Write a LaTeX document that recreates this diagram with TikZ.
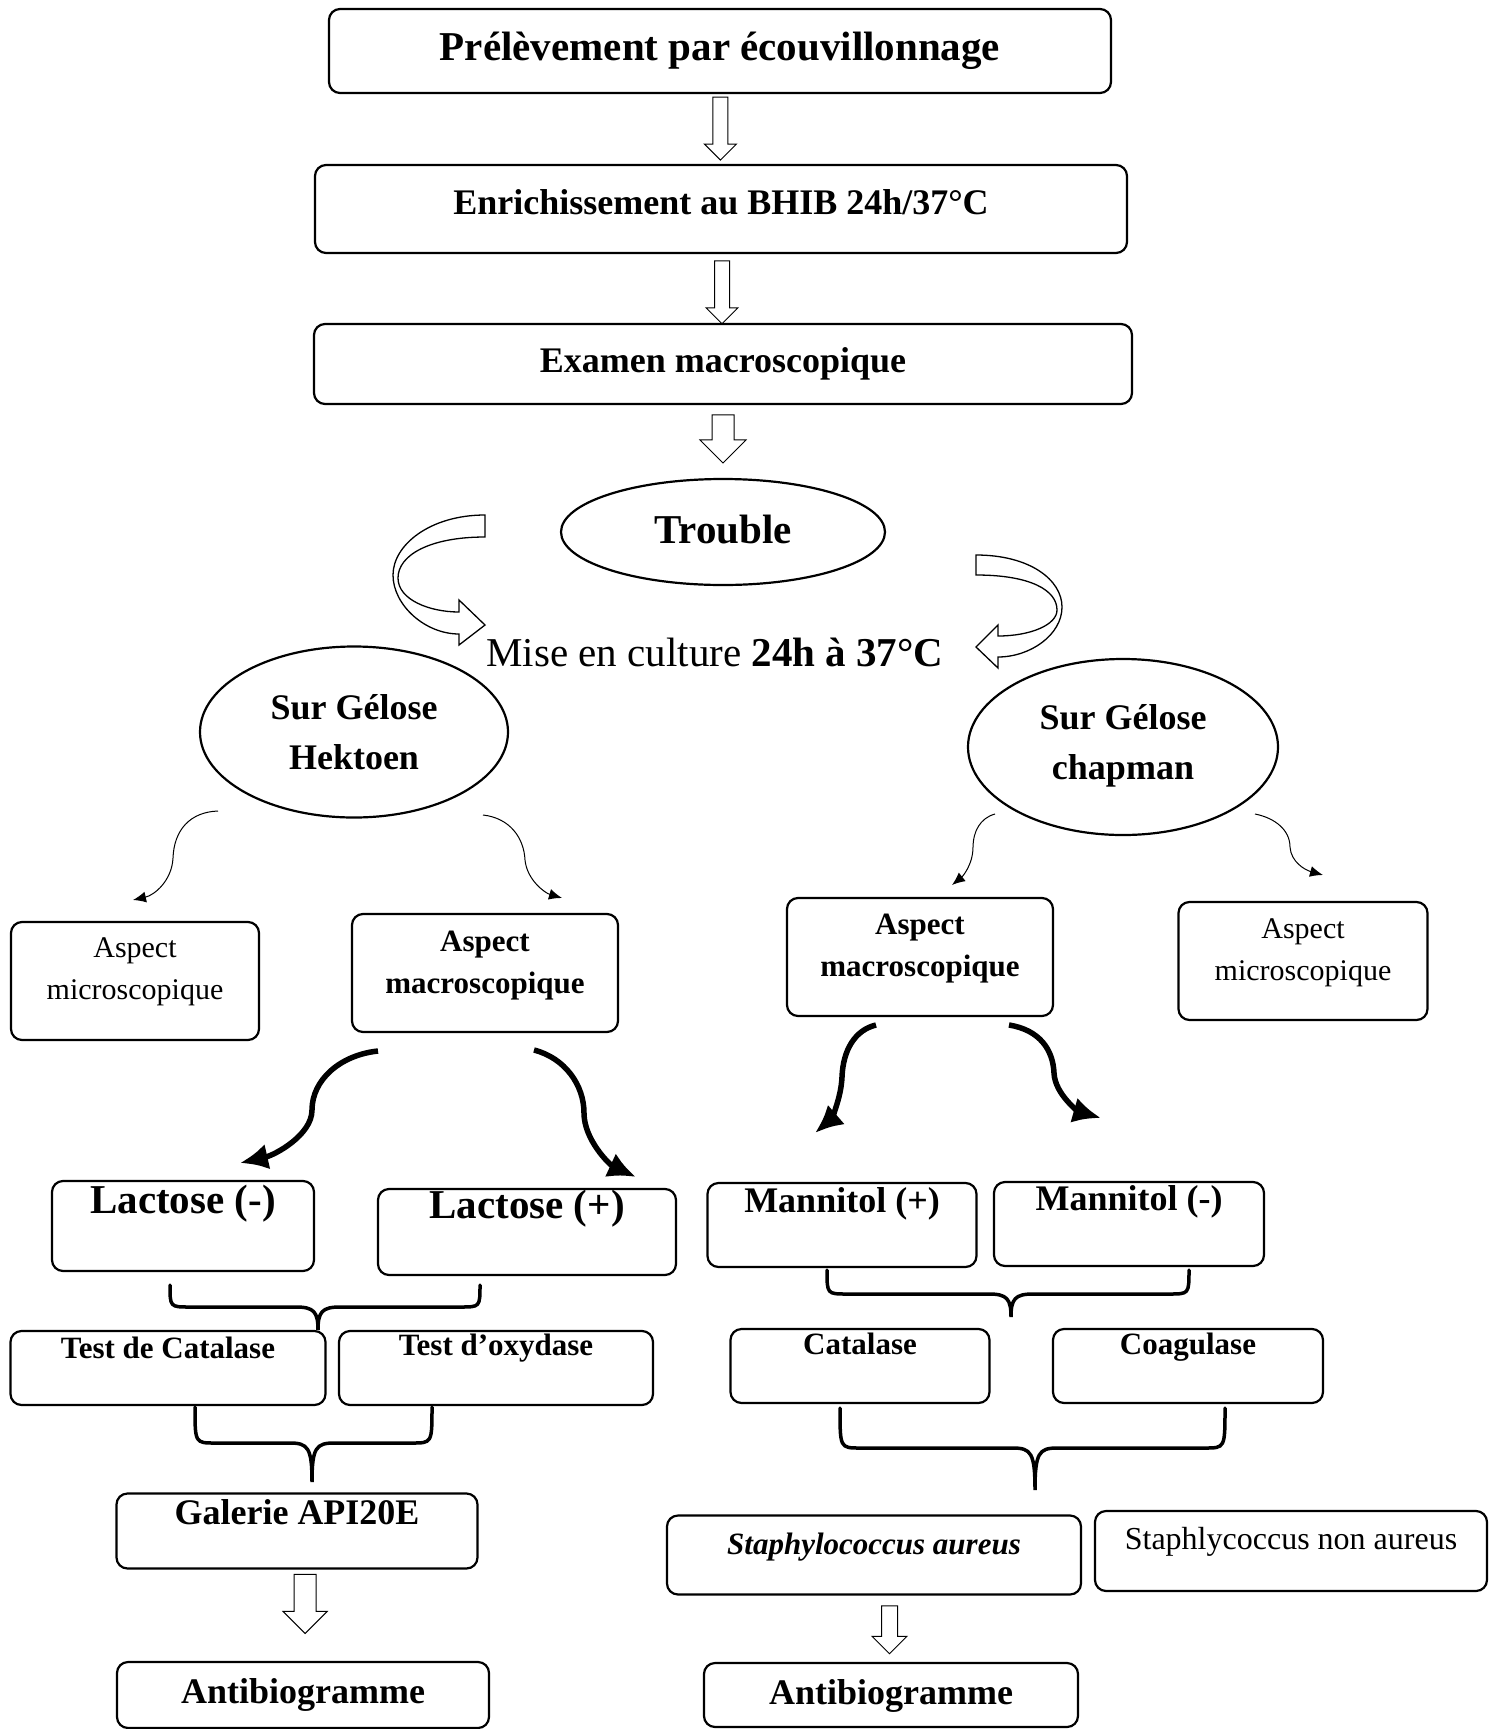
\documentclass[tikz,border=0pt]{standalone}
\usepackage{fontspec}
\setmainfont{Liberation Serif}
\usetikzlibrary{arrows.meta,shapes.geometric,shapes.arrows,calc}
\tikzset{
  box/.style={draw,line width=2.2pt,rounded corners=11pt,inner sep=0pt},
  oval/.style={draw,ellipse,line width=2.2pt,inner sep=0pt},
  tbig/.style={font=\fontsize{41}{50}\selectfont\bfseries},
  tmid/.style={font=\fontsize{36}{50}\selectfont\bfseries,align=center},
  tsmall/.style={font=\fontsize{31}{42}\selectfont\bfseries,align=center},
  treg/.style={font=\fontsize{30}{42}\selectfont,align=center},
  hollow/.style 2 args={draw,single arrow,line width=1pt,rotate=-90,inner sep=#1,single arrow head extend=#2},
  ribbon/.style={draw,line width=1.3pt},
  thinarr/.style={line width=1pt,-{Latex[length=13pt,width=11pt]}},
  thickarr/.style={line width=5.5pt,-{Latex[length=28pt,width=26pt]}},
  curly/.style={line width=3.5pt,line cap=round}
}
\begin{document}
\begin{tikzpicture}[x=1pt,y=-1pt]
\useasboundingbox (0,0) rectangle (1490,1729);
% main column
\node[box,minimum width=782,minimum height=84,label={[tbig]center:Prélèvement par écouvillonnage}] (pre) at (720,51) {};
\node[box,minimum width=812,minimum height=88,label={[tmid,yshift=7]center:Enrichissement au BHIB 24h/37°C}] (enr) at (721,209) {};
\node[box,minimum width=818,minimum height=80,label={[tmid]center:Examen macroscopique}] (exa) at (723,364) {};
\node[oval,minimum width=324,minimum height=106,label={[tbig,yshift=2]center:Trouble}] (tro) at (723,532) {};
\node[font=\fontsize{41}{50}\selectfont] (mise) at (715,652) {Mise en culture \textbf{24h à 37°C}};
\node[hollow={7pt}{8.5pt},minimum height=63] (a1) at ($(pre.south)!.44!(enr.north)$) {};
\node[hollow={7pt}{8.5pt},minimum height=63] (a2) at ($(enr.south)!.5!(exa.north)$) {};
\node[hollow={10.5pt}{12pt},minimum height=48] (a3) at ($(exa.south)!.39!(tro.north)$) {};
% curved ribbons
\draw[ribbon] (485,515) .. controls (430,515) and (393,545) .. (393,575) .. controls (393,605) and (425,634) .. (459,634)
  -- (459,645) -- (485,625) -- (459,600) -- (459,612) .. controls (430,612) and (398,600) .. (398,578)
  .. controls (398,555) and (430,537) .. (485,537) -- cycle;
\draw[ribbon] (976,555) .. controls (1030,555) and (1062,580) .. (1062,607) .. controls (1062,635) and (1030,657) .. (998,657)
  -- (998,668) -- (976,647) -- (998,625) -- (998,636) .. controls (1030,636) and (1057,625) .. (1057,610)
  .. controls (1057,590) and (1030,575) .. (976,575) -- cycle;
% Hektoen
\node[oval,minimum width=308,minimum height=171,label={[tmid]center:Sur Gélose\\Hektoen}] (hek) at (354,732) {};
\node[box,minimum width=248,minimum height=118,label={[treg,yshift=9]center:Aspect\\microscopique}] (mic1) at (135,981) {};
\node[box,minimum width=266,minimum height=118,label={[tsmall,yshift=7]center:Aspect\\macroscopique}] (mac1) at (485,973) {};
\node[box,minimum width=262,minimum height=90,label={[tbig,yshift=22]center:Lactose (-)}] (lacm) at (183,1226) {};
\node[box,minimum width=298,minimum height=86,label={[tbig,yshift=23]center:Lactose (+)}] (lacp) at (527,1232) {};
\node[box,minimum width=315,minimum height=74,label={[tsmall,yshift=20]center:Test de Catalase}] (cat1) at (168,1368) {};
\node[box,minimum width=314,minimum height=74,label={[tsmall,yshift=20]center:Test d’oxydase}] (oxy) at (496,1368) {};
\node[box,minimum width=361,minimum height=75,label={[tmid,yshift=19]center:Galerie API20E}] (api) at (297,1531) {};
\node[box,minimum width=372,minimum height=66,label={[tmid,yshift=0]center:Antibiogramme}] (atb1) at (303,1695) {};
\node[hollow={10.5pt}{11pt},minimum height=59] (a4) at ($(api.south)!.36!(atb1.north)+(6,-4)$) {};
% chapman
\node[oval,minimum width=310,minimum height=176,label={[tmid,yshift=1.5]center:Sur Gélose\\chapman}] (cha) at (1123,747) {};
\node[box,minimum width=266,minimum height=118,label={[tsmall,yshift=8]center:Aspect\\macroscopique}] (mac2) at (920,957) {};
\node[box,minimum width=249,minimum height=118,label={[treg,yshift=8]center:Aspect\\microscopique}] (mic2) at (1303,961) {};
\node[box,minimum width=269,minimum height=84,label={[tmid,yshift=21]center:Mannitol (+)}] (manp) at (842,1225) {};
\node[box,minimum width=270,minimum height=84,label={[tmid,yshift=22]center:Mannitol (-)}] (manm) at (1129,1224) {};
\node[box,minimum width=259,minimum height=74,label={[tsmall,yshift=22]center:Catalase}] (cat2) at (860,1366) {};
\node[box,minimum width=270,minimum height=74,label={[tsmall,yshift=19]center:Coagulase}] (coa) at (1188,1366) {};
\node[box,minimum width=414,minimum height=79,label={[tsmall,yshift=8]center:\textit{Staphylococcus aureus}}] (sau) at (874,1555) {};
\node[box,minimum width=392,minimum height=80,label={[treg,yshift=9,font=\fontsize{32}{40}\selectfont]center:Staphlycoccus non aureus}] (snau) at (1291,1551) {};
\node[box,minimum width=374,minimum height=64,label={[tmid,yshift=-1]center:Antibiogramme}] (atb2) at (891,1695) {};
\node[hollow={7.5pt}{9.5pt},minimum height=48] (a5) at ($(sau.south)!.5!(atb2.north)+(7,-3)$) {};
% thin and thick arrows
\draw[thinarr] (218,811) coordinate (hekL) .. controls (190,812) and (174,830) .. (173,858) .. controls (172,880) and (155,895) .. (133,900) coordinate (mic1T);
\draw[thinarr] (483,815) coordinate (hekR) .. controls (510,818) and (524,838) .. (525,860) .. controls (527,880) and (545,893) .. (562,898) coordinate (mac1T);
\draw[thinarr] (995,814) coordinate (chaL) .. controls (980,818) and (973,832) .. (973,847) .. controls (973,865) and (962,877) .. (952,885) coordinate (mac2T);
\draw[thinarr] (1255,814) coordinate (chaR) .. controls (1275,818) and (1290,830) .. (1290,847) .. controls (1291,862) and (1305,870) .. (1323,875) coordinate (mic2T);
\draw[thickarr] (378,1051) coordinate (mac1L) .. controls (340,1055) and (312,1080) .. (312,1110) .. controls (312,1135) and (275,1155) .. (240,1163) coordinate (lacmT);
\draw[thickarr] (534,1050) coordinate (mac1R) .. controls (565,1058) and (584,1085) .. (584,1113) .. controls (584,1140) and (610,1165) .. (636,1177) coordinate (lacpT);
\draw[thickarr] (876,1025) coordinate (mac2L) .. controls (855,1030) and (843,1050) .. (842,1077) .. controls (841,1100) and (830,1120) .. (815,1133) coordinate (manpT);
\draw[thickarr] (1009,1025) coordinate (mac2R) .. controls (1040,1030) and (1053,1050) .. (1054,1073) .. controls (1055,1095) and (1080,1112) .. (1101,1118) coordinate (manmT);
% braces
\foreach \l/\r/\t/\h/\m/\b in {170/480/1285/1307/318/1330,195/432/1407/1443/312/1482,827/1189/1270/1294/1011/1317,840/1225/1408/1448/1035/1490}
{\draw[curly] (\l,\t) .. controls (\l,\h) and (\l,\h) .. (\l+20,\h) -- (\m-22,\h) .. controls (\m-4,\h) and (\m,\h+5) .. (\m,\b)
  .. controls (\m,\h+5) and (\m+4,\h) .. (\m+22,\h) -- (\r-20,\h) .. controls (\r,\h) and (\r,\h) .. (\r,\t);}
\end{tikzpicture}
\end{document}
